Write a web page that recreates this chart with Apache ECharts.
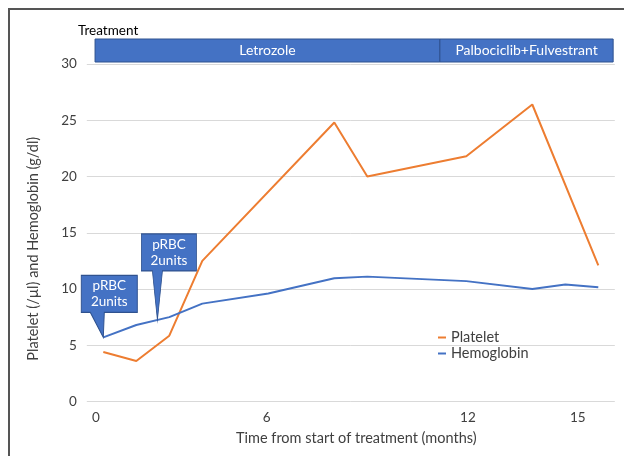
<!DOCTYPE html>
<html>
<head>
<meta charset="utf-8">
<script src="https://cdn.jsdelivr.net/npm/echarts@6/dist/echarts.min.js"></script>
<style>
  body { margin: 0; background: #fff; }
  #wrap { position: relative; width: 624px; height: 456px; }
  #chart { width: 624px; height: 456px; }
  /* frame of the figure panel */
  .frame {
    position: absolute; left: 8px; top: 8px; right: 0; bottom: 0;
    border-left: 2px solid #555; border-top: 2px solid #555;
    pointer-events: none;
  }
</style>
</head>
<body>
<div id="wrap">
  <div id="chart"></div>
  <div class="frame"></div>
</div>
<script>
// positions along the time axis (equally spaced visit slots, as in the original sheet)
var slots = [0, 1, 2, 3, 5, 7, 8, 11, 13, 14, 15];
var hemoglobin = [5.7, 6.8, 7.5, 8.7, 9.6, 10.95, 11.1, 10.7, 10.0, 10.4, 10.15];
var platelet = [4.4, 3.6, 5.85, 12.5, null, 24.8, 20.0, 21.8, 26.4, null, 12.1];

// x tick labels (months) and where they sit on the slot scale
var xTickPos = [-0.22, 4.95, 11.05, 14.38];
var xTickLabels = ["0", "6", "12", "15"];

// treatment periods (slot units)
var treatments = ["Letrozole", "Palbociclib+Fulvestrant"];
var treatStart = [-0.25, 10.2];
var treatEnd = [10.2, 15.45];

// transfusions: where on the hemoglobin line the callouts point
var transfusionAt = [0, 1.64];
var transfusionHb = [5.7, 7.25];
var transfusionText = ["pRBC\n2units", "pRBC\n2units"];

var FONT = "Lato, 'Open Sans', sans-serif";
var ORANGE = "#ED7D31";
var BLUE = "#4472C4";

function pairs(vals) {
  var out = [];
  for (var i = 0; i < slots.length; i++) {
    if (vals[i] != null) out.push([slots[i], vals[i]]);
  }
  return out;
}

// callout shapes: box + pointer, tip sits on the anchor point
var callouts = [
  { path: "path://M0,0 L56,0 L56,37 L23,37 L22,62 L9,37 L0,37 Z", size: [56, 62], offset: [6, -31], labelOffset: [0, -12.5] },
  { path: "path://M0,0 L55,0 L55,37 L21,37 L16,86 L11,37 L0,37 Z", size: [55, 86], offset: [11.5, -43], labelOffset: [0, -24.5] },
];

var markData = [];
for (var i = 0; i < transfusionAt.length; i++) {
  markData.push({
    coord: [transfusionAt[i], transfusionHb[i]],
    symbol: callouts[i].path,
    symbolSize: callouts[i].size,
    symbolOffset: callouts[i].offset,
    symbolKeepAspect: false,
    value: transfusionText[i],
    label: { offset: callouts[i].labelOffset },
  });
}

var myChart = echarts.init(document.getElementById("chart"));
var options = {
  animation: false,
  textStyle: { fontFamily: FONT },
  title: {
    text: "Treatment",
    left: 78,
    top: 24,
    padding: 0,
    textStyle: { fontFamily: FONT, fontSize: 13.5, fontWeight: "normal", color: "#000" },
  },
  legend: {
    orient: "vertical",
    left: 433,
    top: 325,
    itemWidth: 8,
    itemHeight: 2,
    itemGap: 1,
    icon: "rect",
    textStyle: { fontFamily: FONT, fontSize: 14.5, color: "#404040" },
    data: ["Platelet", "Hemoglobin"],
  },
  grid: [
    { left: 86.8, right: 9.2, top: 64, bottom: 54.5 },
    // treatment band above the plot
    { left: 86.8, right: 9.2, top: 39, height: 23 },
  ],
  xAxis: [
    {
      type: "value",
      min: -0.5,
      max: 15.5,
      name: "Time from start of treatment (months)",
      nameLocation: "middle",
      nameGap: 29,
      nameTextStyle: { fontFamily: FONT, fontSize: 14.5, color: "#404040", padding: [0, 0, 0, 11] },
      axisLine: { show: false },
      axisTick: { show: false },
      splitLine: { show: false },
      axisLabel: {
        customValues: xTickPos,
        margin: 9,
        fontSize: 13.5,
        color: "#404040",
        formatter: function (v) {
          var k = xTickPos.indexOf(v);
          return k >= 0 ? xTickLabels[k] : "";
        },
      },
    },
    { type: "value", gridIndex: 1, min: -0.5, max: 15.5, show: false },
  ],
  yAxis: [
    {
      type: "value",
      min: 0,
      max: 30,
      interval: 5,
      name: "Platelet (/µl) and Hemoglobin (g/dl)",
      nameLocation: "middle",
      nameGap: 46,
      nameTextStyle: { fontFamily: FONT, fontSize: 14.5, color: "#404040", padding: [0, 32, 0, 0] },
      axisLine: { show: false },
      axisTick: { show: false },
      axisLabel: { margin: 10, fontSize: 13.5, color: "#404040" },
      splitLine: { lineStyle: { color: "#D9D9D9", width: 1 } },
    },
    { type: "value", gridIndex: 1, min: 0, max: 1, show: false },
  ],
  series: [
    {
      name: "Platelet",
      type: "line",
      data: pairs(platelet),
      connectNulls: true,
      showSymbol: false,
      symbol: "none",
      lineStyle: { color: ORANGE, width: 2 },
      itemStyle: { color: ORANGE },
    },
    {
      name: "Hemoglobin",
      type: "line",
      data: pairs(hemoglobin),
      showSymbol: false,
      symbol: "none",
      lineStyle: { color: BLUE, width: 2 },
      itemStyle: { color: BLUE },
      markPoint: {
        silent: true,
        itemStyle: { color: BLUE, borderColor: "#2F528F", borderWidth: 1 },
        label: {
          show: true,
          position: "inside",
          color: "#fff",
          fontFamily: FONT,
          fontSize: 13.5,
          lineHeight: 16,
          formatter: function (p) { return p.value; },
        },
        data: markData,
      },
    },
    {
      name: "Treatment",
      type: "custom",
      xAxisIndex: 1,
      yAxisIndex: 1,
      silent: true,
      encode: { x: [0, 1] },
      data: treatments.map(function (t, i) { return [treatStart[i], treatEnd[i]]; }),
      renderItem: function (params, api) {
        var p0 = api.coord([api.value(0), 1]);
        var p1 = api.coord([api.value(1), 0]);
        return {
          type: "rect",
          shape: { x: p0[0], y: p0[1], width: p1[0] - p0[0], height: p1[1] - p0[1] },
          style: { fill: BLUE, stroke: "#2F528F", lineWidth: 1 },
          textContent: {
            type: "text",
            style: { text: treatments[params.dataIndex], fill: "#fff", fontFamily: FONT, fontSize: 14 },
          },
          textConfig: { position: "inside" },
        };
      },
    },
  ],
};
myChart.setOption(options);
window.addEventListener("resize", function () {
  myChart.resize();
});
</script>
</body>
</html>
